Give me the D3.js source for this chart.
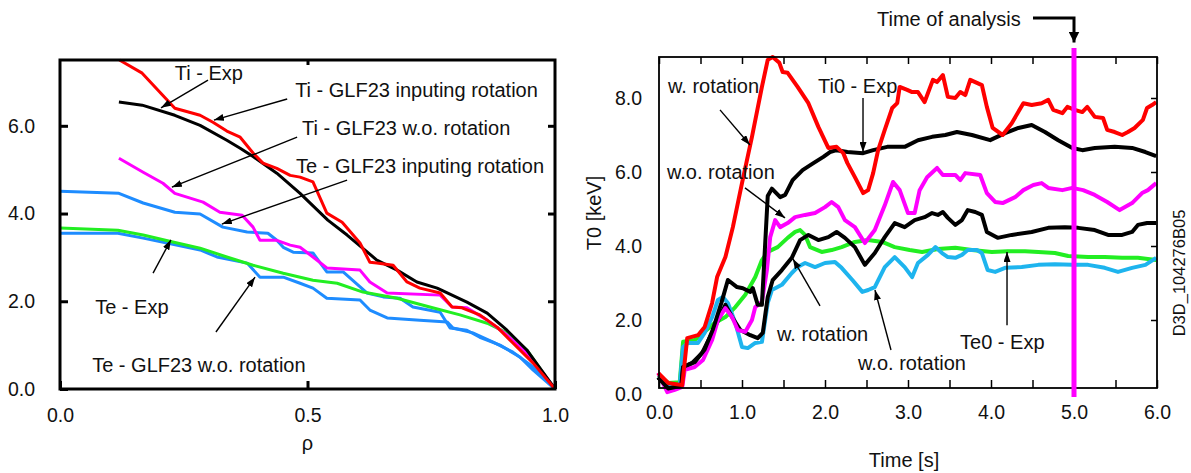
<!DOCTYPE html>
<html>
<head>
<meta charset="utf-8">
<script src="https://cdn.jsdelivr.net/npm/d3@7"></script>
<style>
body { margin: 0; background: #fff; }
text { font-family: "Liberation Sans", Arial, sans-serif; fill: #111; }
</style>
</head>
<body>
<div id="chart"></div>
<script>
// ---- left panel: profiles vs rho ----
var tiExp = [[0.12,7.5],[0.166,7.2],[0.232,6.4],[0.283,6.24],[0.309,6.08],[0.337,5.88],[0.364,5.74],[0.39,5.38],[0.41,5.15],[0.438,5.03],[0.465,4.87],[0.485,4.83],[0.511,4.72],[0.539,4.01],[0.57,3.8],[0.606,3.33],[0.626,2.89],[0.64,2.87],[0.673,2.82],[0.701,2.44],[0.727,2.3],[0.768,2.19],[0.792,1.87],[0.812,1.85],[0.848,1.69],[0.883,1.41],[0.915,1.05],[0.956,0.59],[1.0,0]];
var tiRot = [[0.119,6.54],[0.166,6.47],[0.232,6.24],[0.283,6.01],[0.337,5.67],[0.364,5.49],[0.39,5.3],[0.438,4.92],[0.485,4.46],[0.541,3.85],[0.58,3.51],[0.64,2.94],[0.681,2.71],[0.721,2.44],[0.762,2.3],[0.822,1.98],[0.863,1.73],[0.903,1.34],[0.943,0.89],[1.0,0]];
var tiNoRot = [[0.119,5.26],[0.168,4.94],[0.208,4.69],[0.232,4.46],[0.263,4.35],[0.289,4.26],[0.323,4.03],[0.368,3.96],[0.39,3.69],[0.404,3.39],[0.438,3.39],[0.465,3.28],[0.485,3.23],[0.511,3.01],[0.539,2.76],[0.606,2.71],[0.626,2.44],[0.661,2.19],[0.768,2.14],[0.792,1.87],[0.822,1.85],[0.863,1.57],[0.903,1.23],[0.943,0.82],[0.976,0.36],[1.0,0]];
var teRot = [[0,4.51],[0.119,4.46],[0.168,4.24],[0.232,4.03],[0.283,3.99],[0.329,3.69],[0.378,3.58],[0.42,3.55],[0.438,3.39],[0.451,3.23],[0.471,3.12],[0.511,3.1],[0.539,2.67],[0.572,2.67],[0.62,2.19],[0.653,2.1],[0.687,2.07],[0.713,1.87],[0.768,1.75],[0.788,1.39],[0.822,1.34],[0.848,1.18],[0.889,1.0],[0.929,0.73],[0.956,0.43],[1.0,0]];
var teNoRot = [[0,3.55],[0.117,3.55],[0.168,3.44],[0.216,3.33],[0.283,3.17],[0.317,3.01],[0.378,2.87],[0.404,2.55],[0.451,2.55],[0.485,2.41],[0.511,2.3],[0.539,2.07],[0.606,2.03],[0.626,1.8],[0.661,1.62],[0.727,1.57],[0.782,1.53],[0.794,1.39],[0.834,1.28],[0.875,1.07],[0.915,0.84],[0.956,0.5],[1.0,0]];
var teExp = [[0,3.67],[0.117,3.62],[0.168,3.51],[0.228,3.35],[0.283,3.21],[0.337,3.01],[0.39,2.82],[0.451,2.64],[0.511,2.48],[0.56,2.41],[0.612,2.21],[0.681,2.07],[0.747,1.87],[0.808,1.69],[0.863,1.5],[0.903,1.28],[0.943,0.89],[0.976,0.36],[1.0,0]];
var rhoTicks = [0, 0.5, 1.0];
var leftYTicks = [0, 2, 4, 6];

// ---- right panel: central T vs time ----
var ti0Sim = [[-0.01,0.57],[0.11,0.3],[0.28,0.24],[0.34,1.51],[0.47,1.59],[0.55,1.81],[0.64,2.46],[0.7,3.16],[0.8,3.7],[0.89,4.51],[1.0,5.7],[1.12,6.95],[1.24,8.3],[1.31,9.03],[1.37,9.11],[1.45,8.95],[1.49,8.7],[1.55,8.68],[1.67,8.3],[1.8,7.86],[1.92,7.22],[2.04,6.65],[2.14,6.68],[2.22,6.51],[2.27,6.24],[2.36,5.86],[2.46,5.43],[2.52,5.51],[2.58,5.97],[2.64,6.59],[2.72,7.14],[2.81,7.73],[2.87,7.86],[2.9,8.3],[2.99,8.22],[3.05,8.16],[3.12,8.16],[3.2,7.89],[3.3,8.49],[3.35,8.43],[3.42,8.62],[3.48,8.03],[3.57,8.0],[3.63,8.16],[3.69,8.08],[3.75,8.49],[3.83,8.41],[3.89,8.35],[3.95,7.76],[4.02,7.19],[4.14,7.0],[4.25,7.32],[4.39,7.86],[4.49,7.81],[4.61,7.86],[4.69,7.95],[4.75,7.68],[4.86,7.59],[4.92,7.76],[5.01,7.68],[5.1,7.62],[5.16,7.76],[5.25,7.49],[5.35,7.46],[5.4,7.14],[5.49,7.08],[5.58,7.0],[5.65,7.08],[5.73,7.19],[5.83,7.41],[5.88,7.73],[5.94,7.81],[5.99,7.89]];
var ti0Exp = [[-0.01,0.45],[0.11,0.15],[0.27,0.22],[0.29,0.73],[0.43,0.86],[0.55,1.2],[0.65,1.75],[0.75,2.45],[0.83,3.08],[0.94,2.89],[1.01,2.86],[1.1,2.76],[1.13,2.86],[1.19,2.41],[1.24,2.41],[1.31,5.35],[1.36,5.55],[1.46,5.32],[1.52,5.38],[1.61,5.78],[1.73,6.05],[1.86,6.24],[1.98,6.41],[2.06,6.54],[2.14,6.59],[2.27,6.54],[2.46,6.51],[2.58,6.59],[2.75,6.68],[2.96,6.68],[3.12,6.86],[3.29,6.95],[3.45,7.0],[3.59,7.08],[3.77,7.0],[3.99,6.86],[4.17,7.05],[4.33,7.19],[4.49,7.27],[4.65,7.08],[4.81,6.86],[4.98,6.65],[5.1,6.59],[5.25,6.65],[5.49,6.68],[5.7,6.65],[5.86,6.54],[5.99,6.43]];
var ti0NoRot = [[-0.01,0.57],[0.1,0.05],[0.19,0.11],[0.28,0.19],[0.31,0.65],[0.43,0.73],[0.53,0.92],[0.64,1.46],[0.71,2.0],[0.8,2.32],[0.88,2.08],[0.95,1.73],[1.04,1.68],[1.12,2.0],[1.16,2.35],[1.24,2.49],[1.3,3.35],[1.34,4.24],[1.4,4.7],[1.46,4.51],[1.55,4.62],[1.64,4.78],[1.76,4.84],[1.88,4.89],[2.0,5.05],[2.08,5.19],[2.16,5.05],[2.24,4.7],[2.36,4.51],[2.48,4.08],[2.6,4.43],[2.72,5.1],[2.82,5.73],[2.9,5.51],[3.0,4.89],[3.08,4.89],[3.14,5.51],[3.23,5.86],[3.35,6.11],[3.42,5.92],[3.57,5.92],[3.63,5.78],[3.69,5.97],[3.87,5.92],[3.95,5.43],[4.05,5.19],[4.14,5.16],[4.29,5.32],[4.39,5.51],[4.51,5.65],[4.61,5.7],[4.69,5.57],[4.86,5.51],[4.98,5.57],[5.11,5.51],[5.25,5.38],[5.4,5.19],[5.55,4.97],[5.7,5.16],[5.82,5.43],[5.89,5.51],[5.99,5.7]];
var te0Sim = [[-0.01,0.45],[0.11,0.15],[0.27,0.22],[0.29,0.73],[0.4,0.84],[0.52,1.11],[0.64,1.65],[0.73,2.08],[0.8,2.41],[0.88,2.08],[0.98,1.73],[1.1,1.59],[1.19,1.51],[1.25,1.65],[1.31,2.62],[1.37,3.08],[1.48,3.35],[1.6,3.68],[1.7,4.16],[1.8,4.3],[1.92,4.16],[2.04,4.24],[2.14,4.38],[2.24,4.22],[2.36,3.97],[2.48,3.49],[2.6,3.81],[2.72,4.24],[2.84,4.62],[2.96,4.51],[3.08,4.7],[3.2,4.78],[3.29,4.89],[3.36,4.84],[3.42,4.92],[3.48,4.76],[3.57,4.57],[3.65,4.7],[3.72,4.97],[3.81,4.92],[3.89,4.84],[3.95,4.38],[4.08,4.22],[4.25,4.3],[4.49,4.38],[4.69,4.49],[4.89,4.51],[5.05,4.49],[5.25,4.43],[5.41,4.3],[5.58,4.3],[5.7,4.38],[5.77,4.57],[5.88,4.62],[5.99,4.62]];
var te0Exp = [[-0.01,0.51],[0.11,0.3],[0.25,0.32],[0.29,1.41],[0.43,1.46],[0.55,1.68],[0.67,1.92],[0.8,2.08],[0.92,2.35],[1.04,2.68],[1.16,3.16],[1.24,3.62],[1.31,3.84],[1.43,3.97],[1.55,4.22],[1.64,4.38],[1.7,4.43],[1.76,4.3],[1.82,3.97],[1.96,3.84],[2.08,3.89],[2.2,3.97],[2.36,4.11],[2.52,4.16],[2.69,4.11],[2.84,3.97],[3.02,3.89],[3.17,3.84],[3.36,3.92],[3.57,3.95],[3.77,3.89],[4.01,3.84],[4.2,3.86],[4.41,3.86],[4.57,3.84],[4.77,3.81],[4.93,3.73],[5.17,3.7],[5.37,3.7],[5.58,3.68],[5.77,3.68],[5.89,3.65],[5.99,3.62]];
var te0NoRot = [[-0.01,0.46],[0.11,0.19],[0.25,0.24],[0.29,1.27],[0.35,1.38],[0.47,1.38],[0.55,1.65],[0.64,2.08],[0.71,2.54],[0.77,2.62],[0.83,2.46],[0.92,1.92],[1.0,1.27],[1.07,1.24],[1.16,1.38],[1.24,1.41],[1.31,2.46],[1.36,2.81],[1.48,2.95],[1.6,3.27],[1.67,3.43],[1.76,3.54],[1.88,3.43],[2.0,3.54],[2.12,3.57],[2.2,3.41],[2.33,3.08],[2.45,2.76],[2.52,2.81],[2.6,2.89],[2.72,3.43],[2.84,3.7],[2.96,3.43],[3.05,3.16],[3.12,3.54],[3.24,3.76],[3.33,3.97],[3.41,3.81],[3.48,3.7],[3.57,3.68],[3.65,3.76],[3.72,3.89],[3.83,3.89],[3.89,3.81],[3.96,3.35],[4.05,3.3],[4.17,3.41],[4.37,3.43],[4.57,3.49],[4.77,3.51],[4.98,3.49],[5.17,3.49],[5.37,3.41],[5.53,3.3],[5.7,3.41],[5.86,3.49],[5.99,3.68]];
var timeTicks = [0,0.5,1,1.5,2,2.5,3,3.5,4,4.5,5,5.5,6];
var rightYTicks = [0, 2, 4, 6, 8];
var analysisTime = 5.0;

var W = 1191, H = 473;
var svg = d3.select("#chart").append("svg")
	.attr("width", W)
	.attr("height", H);

var defs = svg.append("defs");
defs.append("marker")
	.attr("id", "ah")
	.attr("markerUnits", "userSpaceOnUse")
	.attr("viewBox", "0 0 10 7")
	.attr("refX", 10).attr("refY", 3.5)
	.attr("markerWidth", 10).attr("markerHeight", 7)
	.attr("orient", "auto")
	.append("path").attr("d", "M0,0L10,3.5L0,7Z").attr("fill", "#000");
defs.append("marker")
	.attr("id", "ahBig")
	.attr("markerUnits", "userSpaceOnUse")
	.attr("viewBox", "0 0 10 10")
	.attr("refX", 10).attr("refY", 5)
	.attr("markerWidth", 11).attr("markerHeight", 11)
	.attr("orient", "auto")
	.append("path").attr("d", "M0,0L10,5L0,10Z").attr("fill", "#000");

function styleAxis(g, w) {
	g.select(".domain").remove();
	g.selectAll(".tick line").attr("stroke", "#000").attr("stroke-width", w);
	g.selectAll(".tick text").style("font-size", "19.5px").attr("fill", "#111");
}

// ================= LEFT PANEL =================
var xL = d3.scaleLinear().domain([0, 1]).range([60, 555]);
var yL = d3.scaleLinear().domain([0, 7.5]).range([389, 60]);

var left = svg.append("g");
var lineL = d3.line()
	.x(function(d){ return xL(d[0]); })
	.y(function(d){ return yL(d[1]); });

var leftSeries = [
	{ data: teNoRot, color: "#1e8cff" },
	{ data: teRot, color: "#1e8cff" },
	{ data: teExp, color: "#22ee22" },
	{ data: tiNoRot, color: "#ff00ff" },
	{ data: tiRot, color: "#000000" },
	{ data: tiExp, color: "#ff0000" }
];
left.selectAll("path.prof")
	.data(leftSeries)
	.enter().append("path")
	.attr("class", "prof")
	.attr("d", function(d){ return lineL(d.data); })
	.attr("fill", "none")
	.attr("stroke", function(d){ return d.color; })
	.attr("stroke-width", 3)
	.attr("stroke-linejoin", "round");

left.append("rect")
	.attr("x", xL(0)).attr("y", yL(7.5))
	.attr("width", xL(1) - xL(0)).attr("height", yL(0) - yL(7.5))
	.attr("fill", "none").attr("stroke", "#000").attr("stroke-width", 3);

left.append("g")
	.attr("transform", "translate(0," + yL(0) + ")")
	.call(d3.axisBottom(xL).tickValues(rhoTicks).tickFormat(d3.format(".1f"))
		.tickSizeInner(-8).tickSizeOuter(0).tickPadding(19))
	.call(styleAxis, 3);
left.append("g")
	.attr("transform", "translate(" + xL(0) + ",0)")
	.call(d3.axisLeft(yL).tickValues(leftYTicks).tickFormat(d3.format(".1f"))
		.tickSizeInner(-8).tickSizeOuter(0).tickPadding(25))
	.call(styleAxis, 3);
left.append("g")
	.attr("transform", "translate(" + xL(1) + ",0)")
	.call(d3.axisRight(yL).tickValues([2, 4, 6]).tickFormat("")
		.tickSizeInner(-7).tickSizeOuter(0))
	.call(styleAxis, 3);
left.append("g")
	.attr("transform", "translate(0," + yL(7.5) + ")")
	.call(d3.axisTop(xL).tickValues([0.5]).tickFormat("")
		.tickSizeInner(-5).tickSizeOuter(0))
	.call(styleAxis, 3);

left.append("text")
	.attr("x", xL(0.5)).attr("y", 450)
	.attr("text-anchor", "middle")
	.style("font-size", "20px")
	.text("ρ");

var leftNotes = [
	{ text: "Ti - Exp", at: [0.232, 7.04], from: [0.299, 7.04], to: [0.204, 6.41] },
	{ text: "Ti - GLF23 inputing rotation", at: [0.475, 6.66], from: [0.459, 6.61], to: [0.311, 6.13] },
	{ text: "Ti - GLF23 w.o. rotation", at: [0.489, 5.79], from: [0.479, 5.74], to: [0.226, 4.6] },
	{ text: "Te - GLF23 inputing rotation", at: [0.477, 4.92], from: [0.58, 4.76], to: [0.327, 3.76] },
	{ text: "Te - Exp", at: [0.071, 1.71], from: [0.188, 2.64], to: [0.224, 3.4] },
	{ text: "Te - GLF23 w.o. rotation", at: [0.065, 0.39], from: [0.315, 1.3], to: [0.394, 2.55] }
];
left.selectAll("line.note")
	.data(leftNotes)
	.enter().append("line")
	.attr("class", "note")
	.attr("x1", function(d){ return xL(d.from[0]); })
	.attr("y1", function(d){ return yL(d.from[1]); })
	.attr("x2", function(d){ return xL(d.to[0]); })
	.attr("y2", function(d){ return yL(d.to[1]); })
	.attr("stroke", "#000").attr("stroke-width", 1.4)
	.attr("marker-end", "url(#ah)");
left.selectAll("text.note")
	.data(leftNotes)
	.enter().append("text")
	.attr("class", "note")
	.attr("x", function(d){ return xL(d.at[0]); })
	.attr("y", function(d){ return yL(d.at[1]); })
	.style("font-size", "20px")
	.text(function(d){ return d.text; });

// ================= RIGHT PANEL =================
var xR = d3.scaleLinear().domain([0, 6]).range([659, 1157]);
var yR = d3.scaleLinear().domain([0, 9]).range([394, 61]);
var right = svg.append("g");
var lineR = d3.line()
	.x(function(d){ return xR(d[0]); })
	.y(function(d){ return yR(d[1]); });

var rightSeries = [
	{ data: te0Exp, color: "#22ee22" },
	{ data: te0NoRot, color: "#1eb4ee" },
	{ data: te0Sim, color: "#000000" },
	{ data: ti0NoRot, color: "#ff00ff" },
	{ data: ti0Exp, color: "#000000" },
	{ data: ti0Sim, color: "#ff0000" }
];
right.selectAll("path.trace")
	.data(rightSeries)
	.enter().append("path")
	.attr("class", "trace")
	.attr("d", function(d){ return lineR(d.data); })
	.attr("fill", "none")
	.attr("stroke", function(d){ return d.color; })
	.attr("stroke-width", 4)
	.attr("stroke-linejoin", "round");

right.append("rect")
	.attr("x", 659).attr("y", 57)
	.attr("width", 1157 - 659).attr("height", 388 - 57)
	.attr("fill", "none").attr("stroke", "#000").attr("stroke-width", 1.8);

var fmtTime = function(d){ return d % 1 === 0 ? d3.format(".1f")(d) : ""; };
right.append("g")
	.attr("transform", "translate(0,388)")
	.call(d3.axisBottom(xR).tickValues(timeTicks).tickFormat(fmtTime)
		.tickSizeInner(-8).tickSizeOuter(0).tickPadding(17))
	.call(styleAxis, 1.5);
right.append("g")
	.attr("transform", "translate(0,57)")
	.call(d3.axisTop(xR).tickValues(timeTicks).tickFormat("")
		.tickSizeInner(-7).tickSizeOuter(0))
	.call(styleAxis, 1.5);
right.append("g")
	.attr("transform", "translate(659,0)")
	.call(d3.axisLeft(yR).tickValues(rightYTicks).tickFormat(d3.format(".1f"))
		.tickSizeInner(0).tickSizeOuter(0).tickPadding(17))
	.call(styleAxis, 1.5);
right.append("g")
	.attr("transform", "translate(1157,0)")
	.call(d3.axisRight(yR).tickValues([2, 4, 6, 8]).tickFormat("")
		.tickSizeInner(-6).tickSizeOuter(0))
	.call(styleAxis, 1.5);

// time of analysis marker
right.append("line")
	.attr("x1", xR(analysisTime)).attr("x2", xR(analysisTime))
	.attr("y1", yR(9.35)).attr("y2", yR(-0.08))
	.attr("stroke", "#ff00ff").attr("stroke-width", 5);
right.append("path")
	.attr("d", lineR([[4.506, 10.16], [analysisTime, 10.16], [analysisTime, 9.5]]))
	.attr("fill", "none").attr("stroke", "#000").attr("stroke-width", 3)
	.attr("marker-end", "url(#ahBig)");
right.append("text")
	.attr("x", xR(2.627)).attr("y", yR(9.95))
	.style("font-size", "20px")
	.text("Time of analysis");

var rightNotes = [
	{ text: "w. rotation", at: [0.108, 8.14], from: [0.735, 7.68], to: [1.096, 6.73] },
	{ text: "Ti0 - Exp", at: [1.916, 8.14], from: [2.458, 8.0], to: [2.458, 6.54] },
	{ text: "w.o. rotation", at: [0.096, 5.81], from: [1.036, 5.57], to: [1.518, 4.76] },
	{ text: "w. rotation", at: [1.422, 1.43], from: [1.94, 2.38], to: [1.614, 3.65] },
	{ text: "w.o. rotation", at: [2.398, 0.65], from: [2.795, 1.19], to: [2.602, 2.81] },
	{ text: "Te0 - Exp", at: [3.627, 1.22], from: [4.193, 1.86], to: [4.193, 3.84] }
];
right.selectAll("line.note")
	.data(rightNotes)
	.enter().append("line")
	.attr("class", "note")
	.attr("x1", function(d){ return xR(d.from[0]); })
	.attr("y1", function(d){ return yR(d.from[1]); })
	.attr("x2", function(d){ return xR(d.to[0]); })
	.attr("y2", function(d){ return yR(d.to[1]); })
	.attr("stroke", "#000").attr("stroke-width", 1.4)
	.attr("marker-end", "url(#ah)");
right.selectAll("text.note")
	.data(rightNotes)
	.enter().append("text")
	.attr("class", "note")
	.attr("x", function(d){ return xR(d.at[0]); })
	.attr("y", function(d){ return yR(d.at[1]); })
	.style("font-size", "20px")
	.text(function(d){ return d.text; });

right.append("text")
	.attr("transform", "translate(601,213) rotate(-90)")
	.attr("text-anchor", "middle")
	.style("font-size", "20px")
	.text("T0 [keV]");
right.append("text")
	.attr("x", 904).attr("y", 467)
	.attr("text-anchor", "middle")
	.style("font-size", "20px")
	.text("Time [s]");
svg.append("text")
	.attr("transform", "translate(1185,273) rotate(-90)")
	.attr("text-anchor", "middle")
	.style("font-size", "16.5px")
	.text("D3D_104276B05");
</script>
</body>
</html>
